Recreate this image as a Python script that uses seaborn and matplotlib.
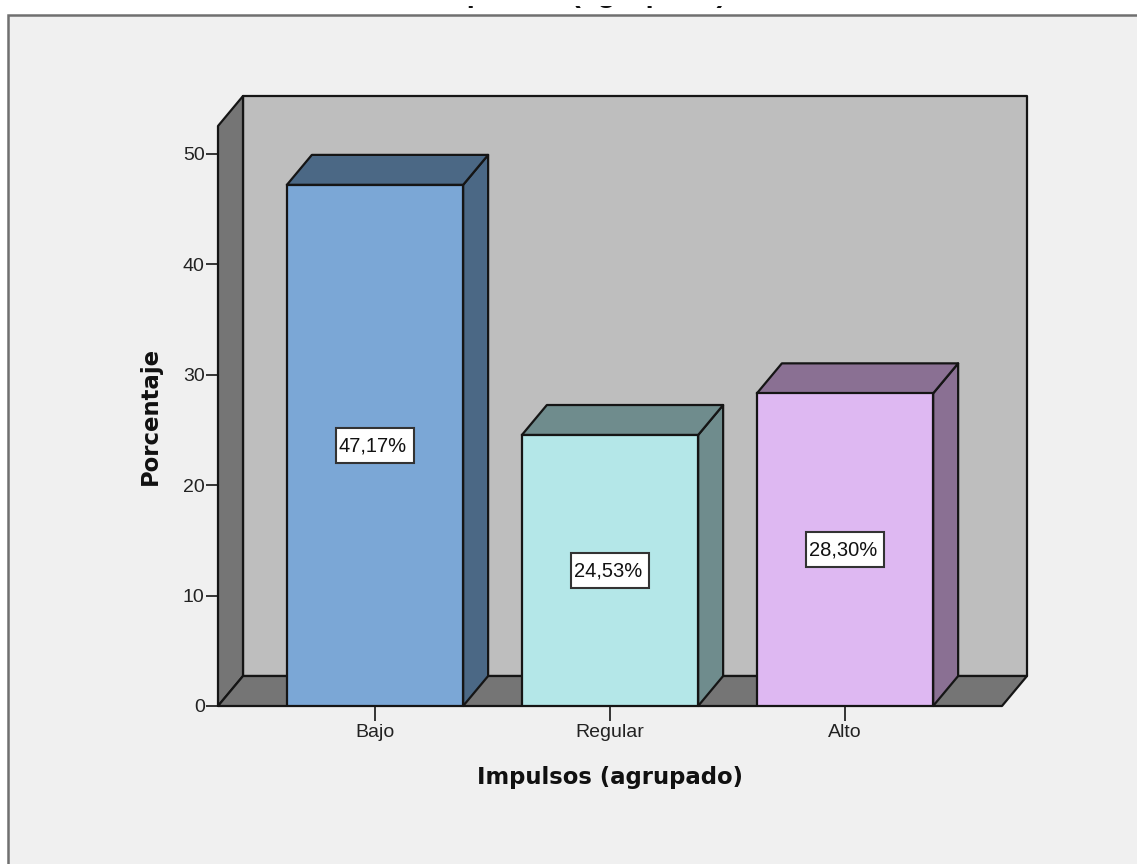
import matplotlib
matplotlib.use('Agg')
import matplotlib.pyplot as plt
import seaborn as sns
from matplotlib.patches import Polygon, Rectangle

categories = ['Bajo', 'Regular', 'Alto']
percentages = [47.17, 24.53, 28.30]
value_labels = ['47,17%', '24,53%', '28,30%']
y_ticks = [0, 10, 20, 30, 40, 50]
front_colors = ['#7BA7D6', '#B4E7E8', '#DEB8F2']
side_colors = ['#4B6885', '#6F8C8D', '#8A7093']
title_text = 'Impulsos (agrupado)'
x_label = 'Impulsos (agrupado)'
y_label = 'Porcentaje'

W, H = 1137, 864
EDGE = '#151515'
LW = 1.6


def fx(px):
    return px / W


def fy(py):
    return 1 - py / H


sns.set_theme(style='white')
plt.rcParams['font.family'] = ['Liberation Sans', 'DejaVu Sans']

fig = plt.figure(figsize=(W / 100, H / 100), dpi=100, facecolor='white')
fig.patches.append(Rectangle((fx(8), -0.01), 1.02 - fx(8), fy(15) + 0.01, transform=fig.transFigure,
                             facecolor='#F0F0F0', edgecolor='#707070', linewidth=1.8, zorder=-1))

ax = fig.add_axes([fx(218), fy(706), fx(1002) - fx(218), fy(126) - fy(706)])
ax.patch.set_alpha(0)

sns.barplot(x=categories, y=percentages, hue=categories, palette=front_colors, legend=False,
            width=0.75, edgecolor=EDGE, linewidth=LW, ax=ax, saturation=1)

ax.set_xlim(-0.668, 2.668)
ax.set_ylim(0, 52.5)
sns.despine(ax=ax, left=True, bottom=True, top=True, right=True)

# depth of the fake 3D box, in data units
px_x = 1 / 235
px_y = 1 / 11.05
dx = 25 * px_x
dy = 30 * px_y
x0, x1 = ax.get_xlim()
y0, y1 = ax.get_ylim()


def face(points, color, z):
    ax.add_patch(Polygon(points, closed=True, facecolor=color, edgecolor=EDGE, linewidth=LW,
                         joinstyle='round', clip_on=False, zorder=z))


# back wall, left wall, floor
face([(x0 + dx, y0 + dy), (x1 + dx, y0 + dy), (x1 + dx, y1 + dy), (x0 + dx, y1 + dy)], '#BEBEBE', 0.5)
face([(x0, y0), (x0 + dx, y0 + dy), (x0 + dx, y1 + dy), (x0, y1)], '#757575', 0.6)
face([(x0, y0), (x1, y0), (x1 + dx, y0 + dy), (x0 + dx, y0 + dy)], '#757575', 0.6)

for bar, side, label in zip(ax.patches[:3], side_colors, value_labels):
    left, w, top = bar.get_x(), bar.get_width(), bar.get_height()
    right = left + w
    mid = left + w / 2
    bar.set_zorder(3)
    face([(right, 0), (right + dx, dy), (right + dx, top + dy), (right, top)], side, 2)
    face([(left, top), (right, top), (right + dx, top + dy), (left + dx, top + dy)], side, 2)
    # white label box is wider and taller than a text bbox pad would give
    box_w, box_h = 78 * px_x, 35 * px_y
    ax.add_patch(Rectangle((mid - box_w / 2, top / 2 - box_h / 2), box_w, box_h, facecolor='white',
                           edgecolor='#333333', linewidth=1.5, zorder=4))
    ax.text(mid - 2 * px_x, top / 2 + 1.5 * px_y, label, ha='center', va='center_baseline', fontsize=14.5,
            color='#111111', zorder=5)

ax.set_yticks(y_ticks)
ax.set_xticks(range(len(categories)))
ax.set_xticklabels(categories)
ax.tick_params(axis='y', left=True, length=8.6, width=1.2, color=EDGE, labelsize=14,
               labelcolor='#222222', pad=1)
ax.tick_params(axis='x', bottom=True, length=10.8, width=1.2, color=EDGE, labelsize=14,
               labelcolor='#222222', pad=2)

ax.set_xlabel(x_label, family='DejaVu Sans', fontweight='bold', fontsize=16.4, color='#111111')
ax.xaxis.set_label_coords(0.4995, -0.103)
ax.set_ylabel(y_label, family='DejaVu Sans', fontweight='bold', fontsize=16.4, color='#111111')
ax.yaxis.set_label_coords(-0.071, 0.5)

# title is cropped by the picture, only the bottom of its descenders shows
fig.text(fx(579), fy(1.8), title_text, ha='center', va='baseline', family='Liberation Sans',
         fontweight='bold', fontsize=21.4, color='#111111', zorder=1)
fig.patches.append(Rectangle((0, fy(5.5)), 1, 1 - fy(5.5), transform=fig.transFigure,
                             facecolor='white', edgecolor='none', zorder=2))

fig.savefig('out.png', dpi=100, facecolor=fig.get_facecolor())
